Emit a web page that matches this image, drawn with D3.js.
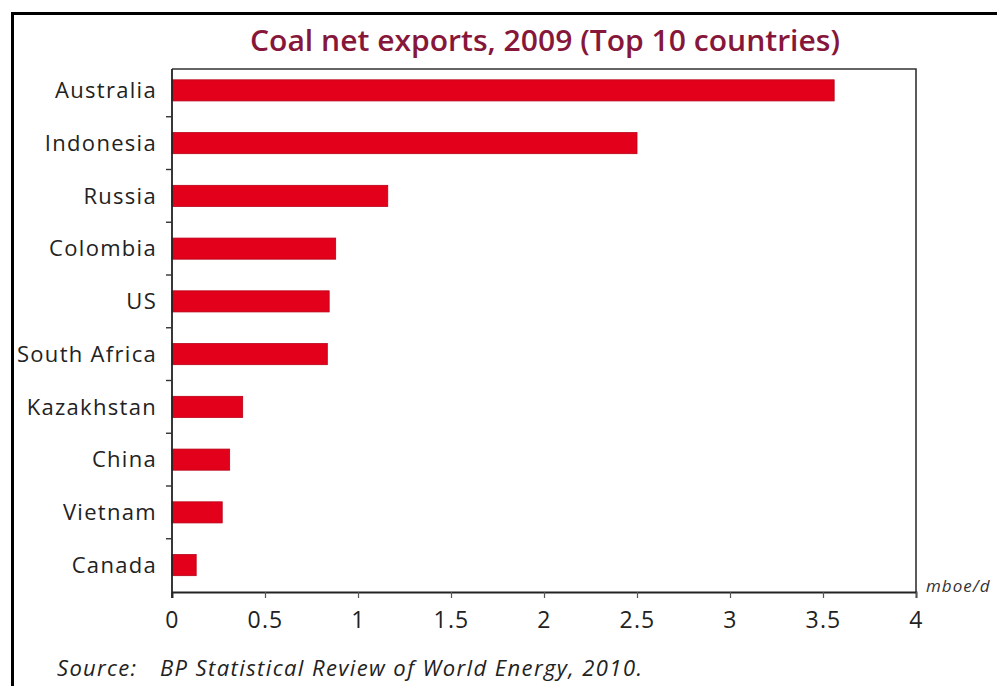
<!DOCTYPE html>
<html>
<head>
<meta charset="utf-8">
<script src="https://cdn.jsdelivr.net/npm/d3@7"></script>
<style>
  html, body { margin: 0; padding: 0; background: #ffffff; }
  svg { display: block; }
</style>
</head>
<body>
<svg id="chart" width="997" height="686"></svg>
<script>
// Coal net exports, 2009 — million barrels of oil equivalent per day
const countries = ["Australia", "Indonesia", "Russia", "Colombia", "US",
                   "South Africa", "Kazakhstan", "China", "Vietnam", "Canada"];
const exports2009 = [3.56, 2.50, 1.16, 0.88, 0.845, 0.835, 0.38, 0.31, 0.27, 0.13];
const xTicks = [0, 0.5, 1, 1.5, 2, 2.5, 3, 3.5, 4];
const xTickLabels = ["0", "0.5", "1", "1.5", "2", "2.5", "3", "3.5", "4"];
const titleText = "Coal net exports, 2009 (Top 10 countries)";
const unitText = "mboe/d";
const sourceLabel = "Source:";
const sourceText = "BP Statistical Review of World Energy, 2010.";

const svg = d3.select("#chart");
const font = "'Open Sans', 'DejaVu Sans', sans-serif";

const plot = { left: 172, right: 916, top: 69, bottom: 592 };

const x = d3.scaleLinear().domain([0, 4]).range([plot.left, plot.right]);
const y = d3.scaleBand().domain(countries).range([64, 591.5]).paddingInner(0.6).paddingOuter(0.3);

// outer frame
svg.append("rect")
  .attr("x", 12.5).attr("y", 13.5)
  .attr("width", 1000).attr("height", 700)
  .attr("fill", "none").attr("stroke", "#000").attr("stroke-width", 3);

// title
svg.append("text")
  .attr("x", 545).attr("y", 51)
  .attr("text-anchor", "middle")
  .attr("font-family", font).attr("font-weight", 600)
  .attr("font-size", 29)
  .attr("textLength", 590).attr("lengthAdjust", "spacingAndGlyphs")
  .attr("fill", "#86173b")
  .text(titleText);

// plot frame (top and right)
svg.append("path")
  .attr("d", `M${plot.left},${plot.top}H${plot.right}V${plot.bottom}`)
  .attr("fill", "none").attr("stroke", "#333").attr("stroke-width", 1.6);

// bars
svg.append("g").selectAll("rect")
  .data(countries)
  .join("rect")
  .attr("x", x(0))
  .attr("y", d => y(d))
  .attr("width", (d, i) => x(exports2009[i]) - x(0))
  .attr("height", y.bandwidth())
  .attr("fill", "#e3001b")
  .attr("stroke", "#b80018")
  .attr("stroke-width", 0.8);

// x axis
const xAxis = d3.axisBottom(x)
  .tickValues(xTicks)
  .tickFormat((d, i) => xTickLabels[i])
  .tickSize(6)
  .tickPadding(14);
const gx = svg.append("g")
  .attr("transform", `translate(0,${plot.bottom})`)
  .call(xAxis);
gx.select(".domain").attr("stroke", "#222").attr("stroke-width", 1.8);
gx.selectAll(".tick line").attr("stroke", "#555").attr("stroke-width", 1.2);
gx.selectAll(".tick text")
  .attr("font-family", font).attr("font-size", 23).attr("fill", "#222")
  .attr("letter-spacing", 1.2);

// y axis: tick marks sit between categories
const gy = svg.append("g");
gy.append("line")
  .attr("x1", plot.left).attr("x2", plot.left)
  .attr("y1", plot.top).attr("y2", plot.bottom + 6)
  .attr("stroke", "#222").attr("stroke-width", 1.8);
gy.selectAll("line.sep")
  .data(countries.slice(1))
  .join("line")
  .attr("class", "sep")
  .attr("x1", plot.left - 6).attr("x2", plot.left)
  .attr("y1", d => y(d) - y.step() * y.paddingInner() / 2)
  .attr("y2", d => y(d) - y.step() * y.paddingInner() / 2)
  .attr("stroke", "#333").attr("stroke-width", 1.4);
gy.selectAll("text")
  .data(countries)
  .join("text")
  .attr("x", 157)
  .attr("y", d => y(d) + y.bandwidth() / 2)
  .attr("dy", "0.35em")
  .attr("text-anchor", "end")
  .attr("font-family", font).attr("font-size", 22)
  .attr("letter-spacing", 1.3)
  .attr("fill", "#222")
  .text(d => d);

// unit label
svg.append("text")
  .attr("x", 926).attr("y", 592)
  .attr("font-family", font).attr("font-style", "italic")
  .attr("font-size", 17).attr("letter-spacing", 1)
  .attr("fill", "#333")
  .text(unitText);

// source note
svg.append("text")
  .attr("x", 57).attr("y", 676)
  .attr("font-family", font).attr("font-style", "italic")
  .attr("font-size", 22).attr("letter-spacing", 1.3).attr("fill", "#222")
  .text(sourceLabel);
svg.append("text")
  .attr("x", 160).attr("y", 676)
  .attr("font-family", font).attr("font-style", "italic")
  .attr("font-size", 22).attr("letter-spacing", 1.4).attr("fill", "#222")
  .text(sourceText);
</script>
</body>
</html>
